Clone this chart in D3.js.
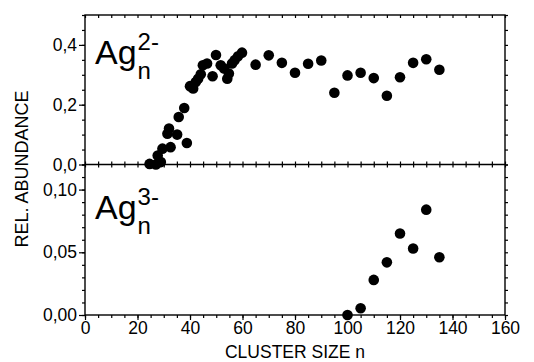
<!DOCTYPE html>
<html><head><meta charset="utf-8">
<script src="https://cdn.jsdelivr.net/npm/d3@7"></script>
<style>body{margin:0;background:#fff}svg{display:block}text{font-family:"Liberation Sans",Arial,sans-serif;fill:#000}</style>
</head><body>
<svg id="c" width="534" height="362"></svg>
<script>
// Ag_n^2- (upper panel)
const n2 = [24.6,27.0,28.9,27.7,29.5,32.6,38.8,31.4,32.0,35.1,35.7,37.8,40.0,41.2,42.2,43.1,44.1,44.9,46.5,48.6,49.9,51.7,53.0,54.2,54.8,56.0,57.0,58.3,59.8,65,70,75,80,85,90,95,100,105,110,115,120,125,130,135];
const a2 = [0.002,0.0,0.008,0.03,0.053,0.058,0.072,0.103,0.12,0.10,0.159,0.189,0.262,0.254,0.276,0.287,0.302,0.332,0.338,0.295,0.366,0.332,0.321,0.287,0.304,0.338,0.349,0.362,0.374,0.334,0.365,0.340,0.307,0.337,0.348,0.240,0.298,0.307,0.289,0.230,0.292,0.340,0.352,0.317];
// Ag_n^3- (lower panel)
const n3 = [100,105,110,115,120,125,130,135];
const a3 = [0.0,0.0054,0.028,0.042,0.065,0.053,0.084,0.046];
// ticks
const xMajor = [0,20,40,60,80,100,120,140,160];
const xMinor = d3.range(0,161,5);
const yUpMajor = [0,0.2,0.4];
const yUpMinor = d3.range(0,0.501,0.05);
const yLoMajor = [0,0.05,0.10];
const yLoMinor = d3.range(0,0.1201,0.01);
const xTitle = "CLUSTER SIZE n";
const yTitle = "REL. ABUNDANCE";

const L=85, R=505, T=15, M=164.5, B=315;
const svg = d3.select("#c");
const x = d3.scaleLinear().domain([0,160]).range([L,R]);
const yU = d3.scaleLinear().domain([0,0.5]).range([M,T]);
const yL = d3.scaleLinear().domain([0,0.12]).range([B,M]);
const fmtComma = d => d3.format(".1f")(d).replace(".",",");
const fmtComma2 = d => d3.format(".2f")(d).replace(".",",");

function styleAxis(g){ g.select(".domain").remove(); g.selectAll("line").attr("stroke","#000").attr("stroke-width",1.2); g.selectAll("text").attr("font-size","17.5px").attr("font-family","Liberation Sans, Arial, sans-serif").attr("fill","#000"); }

// left axes
svg.append("g").attr("transform",`translate(${L},0)`).call(d3.axisLeft(yU).tickValues(yUpMinor).tickSize(3).tickFormat("")).call(styleAxis);
svg.append("g").attr("transform",`translate(${L},0)`).call(d3.axisLeft(yU).tickValues(yUpMajor).tickSize(6).tickPadding(2).tickFormat(fmtComma)).call(styleAxis);
svg.append("g").attr("transform",`translate(${L},0)`).call(d3.axisLeft(yL).tickValues(yLoMinor).tickSize(3).tickFormat("")).call(styleAxis);
svg.append("g").attr("transform",`translate(${L},0)`).call(d3.axisLeft(yL).tickValues(yLoMajor).tickSize(6).tickPadding(2).tickFormat(fmtComma2)).call(styleAxis);
// right axes (no labels)
svg.append("g").attr("transform",`translate(${R},0)`).call(d3.axisRight(yU).tickValues(yUpMinor).tickSize(3).tickFormat("")).call(styleAxis);
svg.append("g").attr("transform",`translate(${R},0)`).call(d3.axisRight(yL).tickValues(yLoMinor).tickSize(3).tickFormat("")).call(styleAxis);
// bottom axis
svg.append("g").attr("transform",`translate(0,${B})`).call(d3.axisBottom(x).tickValues(xMinor).tickSize(3).tickFormat("")).call(styleAxis);
svg.append("g").attr("transform",`translate(0,${B})`).call(d3.axisBottom(x).tickValues(xMajor).tickSize(5).tickPadding(2).tickFormat(d3.format("d"))).call(styleAxis);
// top border ticks (inward)
svg.append("g").attr("transform",`translate(0,${T})`).call(d3.axisBottom(x).tickValues(xMinor).tickSize(3).tickFormat("")).call(styleAxis);
// middle line ticks both ways
svg.append("g").attr("transform",`translate(0,${M})`).call(d3.axisTop(x).tickValues(xMinor).tickSize(3).tickFormat("")).call(styleAxis);
svg.append("g").attr("transform",`translate(0,${M})`).call(d3.axisBottom(x).tickValues(xMinor).tickSize(3).tickFormat("")).call(styleAxis);

// frame
const fr = svg.append("g").attr("stroke","#000").attr("stroke-width",1.4).attr("fill","none");
fr.append("rect").attr("x",L).attr("y",T).attr("width",R-L).attr("height",B-T);
fr.append("line").attr("x1",L).attr("x2",R).attr("y1",M).attr("y2",M);

// points
svg.append("g").selectAll("circle").data(n2.map((d,i)=>[d,a2[i]])).join("circle")
  .attr("cx",d=>x(d[0])).attr("cy",d=>yU(d[1])).attr("r",5.3).attr("fill","#000");
svg.append("g").selectAll("circle").data(n3.map((d,i)=>[d,a3[i]])).join("circle")
  .attr("cx",d=>x(d[0])).attr("cy",d=>yL(d[1])).attr("r",5.3).attr("fill","#000");

// species labels
function species(xp, yb, sup){
  const t = svg.append("text").attr("x",xp).attr("y",yb).attr("font-size","34px").text("Ag");
  const w = t.node().getComputedTextLength();
  svg.append("text").attr("x",xp+w+1).attr("y",yb+15).attr("font-size","24px").text("n");
  svg.append("text").attr("x",xp+w+1).attr("y",yb-14).attr("font-size","24px").text(sup);
}
species(95,64,"2-");
species(95,219,"3-");

// titles
svg.append("text").attr("x",(L+R)/2).attr("y",358).attr("text-anchor","middle").attr("font-size","17.5px").text(xTitle);
svg.append("text").attr("transform",`translate(28,${(T+B)/2+4}) rotate(-90)`).attr("text-anchor","middle").attr("font-size","18px").text(yTitle);
</script>
</body></html>
